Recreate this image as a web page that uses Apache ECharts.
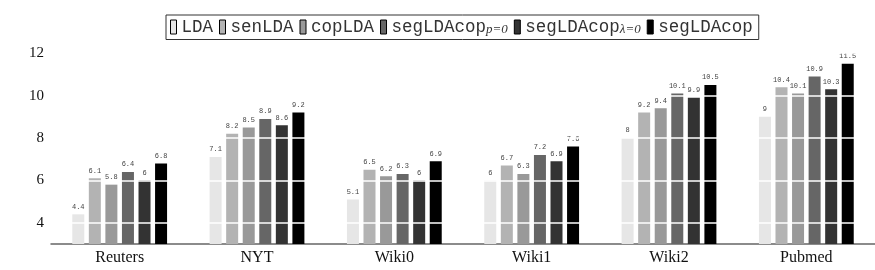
<!DOCTYPE html>
<html>
<head>
<meta charset="utf-8">
<script src="https://cdn.jsdelivr.net/npm/echarts@6/dist/echarts.min.js"></script>
<style>
  html, body { margin: 0; padding: 0; background: #fff; }
  #chart { width: 875px; height: 270px; }
</style>
</head>
<body>
<div id="chart"></div>
<script>
// 数据
const datasets = ['Reuters', 'NYT', 'Wiki0', 'Wiki1', 'Wiki2', 'Pubmed'];
const methods = ['LDA', 'senLDA', 'copLDA', 'segLDAcop_p', 'segLDAcop_l', 'segLDAcop'];
const ldaVals      = [4.4, 7.1, 5.1, 6, 8, 9];
const senLdaVals   = [6.1, 8.2, 6.5, 6.7, 9.2, 10.4];
const copLdaVals   = [5.8, 8.5, 6.2, 6.3, 9.4, 10.1];
const segP0Vals    = [6.4, 8.9, 6.3, 7.2, 10.1, 10.9];
const segL0Vals    = [6, 8.6, 6, 6.9, 9.9, 10.3];
const segLdaCopVals = [6.8, 9.2, 6.9, 7.6, 10.5, 11.5];
const yTicks = [4, 6, 8, 10, 12];

const allVals = [ldaVals, senLdaVals, copLdaVals, segP0Vals, segL0Vals, segLdaCopVals];
const colors = ['#e6e6e6', '#b3b3b3', '#999999', '#666666', '#333333', '#000000'];

let myChart = echarts.init(document.getElementById('chart'));

let series = methods.map((m, i) => ({
  name: m,
  type: 'bar',
  data: allVals[i],
  barWidth: 12,
  barGap: '38%',
  itemStyle: { color: colors[i] },
  label: {
    show: true,
    position: 'top',
    distance: 4,
    fontFamily: 'Liberation Mono',
    fontSize: 7,
    color: '#444'
  }
}));

// 白色网格线压在柱子上
series.push({
  name: 'grid',
  type: 'line',
  data: [],
  z: 10,
  markLine: {
    silent: true,
    symbol: 'none',
    label: { show: false },
    lineStyle: { color: '#fff', width: 1.5, type: 'solid' },
    data: yTicks.map(v => ({ yAxis: v }))
  }
});

const legendNames = {
  LDA: '{m|LDA}',
  senLDA: '{m|senLDA}',
  copLDA: '{m|copLDA}',
  segLDAcop_p: '{m|segLDAcop}{s|p=0}',
  segLDAcop_l: '{m|segLDAcop}{s|λ=0}',
  segLDAcop: '{m|segLDAcop}'
};

let option = {
  animation: false,
  legend: {
    left: 166,
    top: 15,
    padding: [3, 6, 3, 4],
    itemGap: 6,
    itemWidth: 6,
    itemHeight: 14,
    borderColor: '#333',
    borderWidth: 1,
    data: methods.map((m, i) => ({
      name: m,
      icon: 'rect',
      itemStyle: { color: colors[i], borderColor: '#000', borderWidth: 1 }
    })),
    formatter: name => legendNames[name],
    textStyle: {
      rich: {
        m: { fontFamily: 'Liberation Mono', fontSize: 17.5, color: '#333', lineHeight: 18 },
        s: { fontFamily: 'Liberation Serif', fontStyle: 'italic', fontSize: 13, color: '#333', padding: [6, 0, 0, 0] }
      }
    }
  },
  grid: { left: 51, right: 0, top: 49, bottom: 26, containLabel: false },
  xAxis: {
    type: 'category',
    data: datasets,
    axisLine: { lineStyle: { color: '#666', width: 1.5 } },
    axisTick: { show: false },
    axisLabel: { fontFamily: 'Liberation Serif', fontSize: 16, color: '#111', margin: 6 }
  },
  yAxis: {
    type: 'value',
    min: 3,
    max: 12.2,
    interval: 1,
    axisLine: { show: false },
    axisTick: { show: false },
    splitLine: { show: false },
    axisLabel: {
      fontFamily: 'Liberation Serif',
      fontSize: 15,
      color: '#111',
      margin: 7,
      formatter: v => (yTicks.indexOf(v) >= 0 ? String(v) : '')
    }
  },
  series: series
};

myChart.setOption(option);
window.addEventListener('resize', function () {
  myChart.resize();
});
</script>
</body>
</html>
